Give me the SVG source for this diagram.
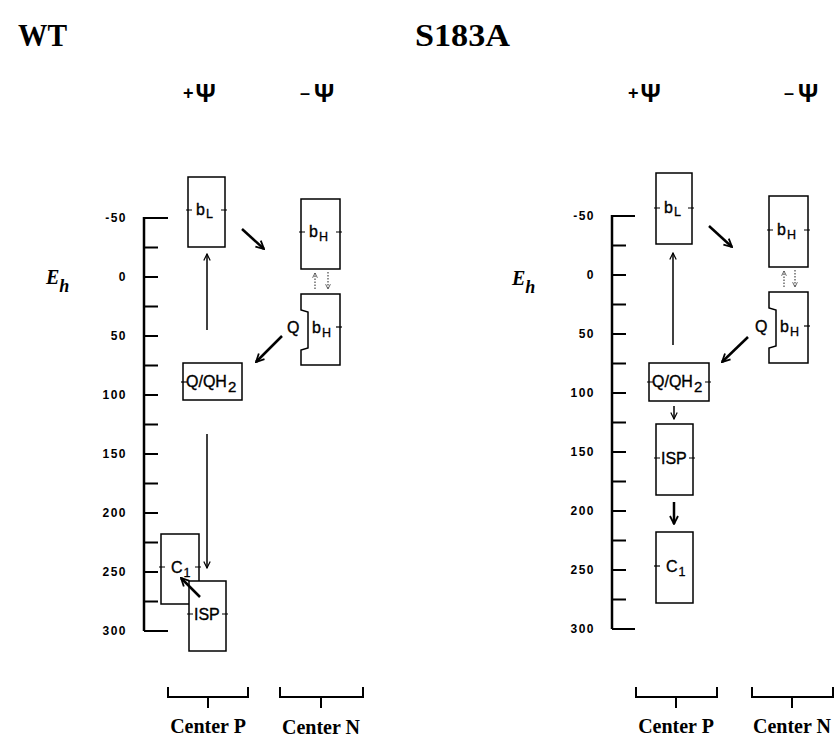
<svg xmlns="http://www.w3.org/2000/svg" width="834" height="740" viewBox="0 0 834 740">
<defs>
<style>
.title{font-family:"Liberation Serif",serif;font-weight:bold;font-size:32px;fill:#000}
.psi{font-family:"Liberation Sans",sans-serif;font-weight:bold;font-size:25px;fill:#000}
.pm{font-family:"Liberation Sans",sans-serif;font-weight:bold;font-size:18px;fill:#000}
.eh{font-family:"Liberation Serif",serif;font-weight:bold;font-style:italic;font-size:20px;fill:#000}
.ehs{font-family:"Liberation Serif",serif;font-weight:bold;font-style:italic;font-size:18px;fill:#000}
.ax{font-family:"Liberation Sans",sans-serif;font-weight:bold;font-size:12px;letter-spacing:1.5px;fill:#000;text-anchor:end}
.lbl{font-family:"Liberation Sans",sans-serif;font-size:16px;fill:#000;stroke:#000;stroke-width:0.35}
.sub{font-family:"Liberation Sans",sans-serif;font-size:12.5px;fill:#000;stroke:#000;stroke-width:0.3}
.sub2{font-family:"Liberation Sans",sans-serif;font-size:15px;fill:#000;stroke:#000;stroke-width:0.35}
.ctr{font-family:"Liberation Serif",serif;font-weight:bold;font-size:20px;fill:#000;text-anchor:middle}
.box{fill:#fff;stroke:#000;stroke-width:1.5}
.axis{fill:none;stroke:#000;stroke-width:2.5}
.tick{fill:none;stroke:#000;stroke-width:2}
.dash{fill:none;stroke:#000;stroke-width:1.2}
.thin{fill:none;stroke:#000;stroke-width:1.5}
.thick{fill:none;stroke:#000;stroke-width:2.5}
.dot{fill:none;stroke:#555;stroke-width:1.3;stroke-dasharray:1.5 1.5}
.brk{fill:none;stroke:#000;stroke-width:2}
</style>
<marker id="ah" viewBox="0 0 10 10" refX="9" refY="5" markerWidth="8" markerHeight="8" markerUnits="userSpaceOnUse" orient="auto">
<path d="M1,1 L9,5 L1,9" fill="none" stroke="#000" stroke-width="1.5"/>
</marker>
<marker id="ahk" viewBox="0 0 10 10" refX="9" refY="5" markerWidth="4" markerHeight="4" orient="auto">
<path d="M1,1 L9,5 L1,9" fill="none" stroke="#000" stroke-width="1.8"/>
</marker>
<marker id="ahd" viewBox="0 0 10 10" refX="9" refY="5" markerWidth="6" markerHeight="6" markerUnits="userSpaceOnUse" orient="auto">
<path d="M1,1 L9,5 L1,9" fill="none" stroke="#555" stroke-width="1.5"/>
</marker>
</defs>
<rect width="834" height="740" fill="#fff"/>

<!-- Titles -->
<text class="title" x="18" y="46" textLength="49" lengthAdjust="spacingAndGlyphs">WT</text>
<text class="title" x="415" y="46" textLength="95" lengthAdjust="spacingAndGlyphs">S183A</text>
<text x="183" y="102"><tspan class="pm" dy="-3">+</tspan><tspan class="psi" dx="2" dy="3">Ψ</tspan></text>
<text x="300" y="102"><tspan class="pm" dy="-3">–</tspan><tspan class="psi" dx="4" dy="3">Ψ</tspan></text>
<text x="628" y="102"><tspan class="pm" dy="-3">+</tspan><tspan class="psi" dx="2" dy="3">Ψ</tspan></text>
<text x="784" y="102"><tspan class="pm" dy="-3">–</tspan><tspan class="psi" dx="4" dy="3">Ψ</tspan></text>

<!-- WT axis -->
<g id="axis-wt">
<text x="46" y="284"><tspan class="eh">E</tspan><tspan class="ehs" dx="0" dy="8">h</tspan></text>
<path class="axis" d="M144,217 V631"/>
<path class="tick" d="M144,218 H168 M144,631 H168 M144,247.5 H158 M144,277 H158 M144,306.5 H158 M144,336 H158 M144,365.5 H158 M144,395 H158 M144,424.5 H158 M144,454 H158 M144,483.5 H158 M144,513 H158 M144,542.5 H158 M144,572 H158 M144,601.5 H158"/>
<text class="ax" x="127" y="222">-50</text>
<text class="ax" x="127" y="281">0</text>
<text class="ax" x="127" y="340">50</text>
<text class="ax" x="127" y="399">100</text>
<text class="ax" x="127" y="458">150</text>
<text class="ax" x="127" y="517">200</text>
<text class="ax" x="127" y="576">250</text>
<text class="ax" x="127" y="635">300</text>
</g>

<!-- WT nodes -->
<g id="wt-bL">
<rect class="box" x="188" y="177" width="37" height="70"/>
<path class="dash" d="M186,210 H192 M221,210 H227"/>
<text x="196" y="215"><tspan class="lbl">b</tspan><tspan class="sub" dx="1" dy="3">L</tspan></text>
</g>
<g id="wt-bH">
<rect class="box" x="301" y="199" width="39" height="70"/>
<path class="dash" d="M299,232 H305 M336,232 H342"/>
<text x="309" y="237"><tspan class="lbl">b</tspan><tspan class="sub" dx="1" dy="4">H</tspan></text>
</g>
<g id="wt-QbH">
<path class="box" d="M301,294 H340 V365 H301 V350 L308,348 V312 L301,310 Z"/>
<path class="dash" d="M336,327 H342"/>
<text class="lbl" x="287" y="333">Q</text>
<text x="312" y="333"><tspan class="lbl">b</tspan><tspan class="sub" dx="1" dy="4">H</tspan></text>
</g>
<g id="wt-QQH2">
<rect class="box" x="183" y="363" width="59" height="37"/>
<path class="dash" d="M181,382 H187"/>
<text x="186" y="387"><tspan class="lbl">Q/QH</tspan><tspan class="sub2" dx="1" dy="5">2</tspan></text>
</g>
<g id="wt-C1">
<rect class="box" x="161" y="534" width="38" height="70"/>
<path class="dash" d="M159,567 H165 M195,567 H201"/>
<text x="171" y="573"><tspan class="lbl">C</tspan><tspan class="sub" dx="1" dy="4">1</tspan></text>
</g>
<g id="wt-ISP">
<rect class="box" x="189" y="581" width="37" height="70"/>
<path class="dash" d="M187,614 H193 M222,614 H228"/>
<text class="lbl" x="194" y="620">ISP</text>
</g>

<!-- WT connectors -->
<g id="wt-connectors">
<path class="thick" d="M242,229 L264,249" marker-end="url(#ahk)"/>
<path class="thick" d="M282,336 L256,362" marker-end="url(#ahk)"/>
<path class="thin" d="M207,330 V254" marker-end="url(#ah)"/>
<path class="thin" d="M207,434 V568" marker-end="url(#ah)"/>
<path class="thick" d="M200,597 L181,578" marker-end="url(#ahk)"/>
<path class="dot" d="M315,289 V273" marker-end="url(#ahd)"/>
<path class="dot" d="M328,272 V289" marker-end="url(#ahd)"/>
</g>

<!-- S183A axis -->
<g id="axis-s183a">
<text x="512" y="285"><tspan class="eh">E</tspan><tspan class="ehs" dx="0" dy="8">h</tspan></text>
<path class="axis" d="M612,215 V629"/>
<path class="tick" d="M612,216 H635 M612,629 H635 M612,245.5 H626 M612,275 H626 M612,304.5 H626 M612,334 H626 M612,363.5 H626 M612,393 H626 M612,422.5 H626 M612,452 H626 M612,481.5 H626 M612,511 H626 M612,540.5 H626 M612,570 H626 M612,599.5 H626"/>
<text class="ax" x="595" y="220">-50</text>
<text class="ax" x="595" y="279">0</text>
<text class="ax" x="595" y="338">50</text>
<text class="ax" x="595" y="397">100</text>
<text class="ax" x="595" y="456">150</text>
<text class="ax" x="595" y="515">200</text>
<text class="ax" x="595" y="574">250</text>
<text class="ax" x="595" y="633">300</text>
</g>

<!-- S183A nodes -->
<g id="s-bL">
<rect class="box" x="656" y="173" width="36" height="71"/>
<path class="dash" d="M654,208 H660 M688,208 H694"/>
<text x="664" y="213"><tspan class="lbl">b</tspan><tspan class="sub" dx="1" dy="3">L</tspan></text>
</g>
<g id="s-bH">
<rect class="box" x="769" y="196" width="39" height="71"/>
<path class="dash" d="M767,230 H773 M804,230 H810"/>
<text x="777" y="235"><tspan class="lbl">b</tspan><tspan class="sub" dx="1" dy="4">H</tspan></text>
</g>
<g id="s-QbH">
<path class="box" d="M769,292 H808 V363 H769 V348 L776,346 V310 L769,308 Z"/>
<path class="dash" d="M804,326 H810"/>
<text class="lbl" x="755" y="332">Q</text>
<text x="780" y="332"><tspan class="lbl">b</tspan><tspan class="sub" dx="1" dy="4">H</tspan></text>
</g>
<g id="s-QQH2">
<rect class="box" x="649" y="363" width="60" height="38"/>
<path class="dash" d="M647,382 H653 M705,382 H711"/>
<text x="652" y="387"><tspan class="lbl">Q/QH</tspan><tspan class="sub2" dx="1" dy="5">2</tspan></text>
</g>
<g id="s-ISP">
<rect class="box" x="656" y="424" width="37" height="71"/>
<path class="dash" d="M654,458 H660 M689,458 H695"/>
<text class="lbl" x="661" y="464">ISP</text>
</g>
<g id="s-C1">
<rect class="box" x="656" y="532" width="37" height="71"/>
<path class="dash" d="M654,566 H660"/>
<text x="666" y="572"><tspan class="lbl">C</tspan><tspan class="sub" dx="1" dy="4">1</tspan></text>
</g>

<!-- S183A connectors -->
<g id="s-connectors">
<path class="thick" d="M709,226 L732,247" marker-end="url(#ahk)"/>
<path class="thick" d="M748,337 L722,362" marker-end="url(#ahk)"/>
<path class="thin" d="M673,345 V253" marker-end="url(#ah)"/>
<path class="thin" d="M674,406 V419" marker-end="url(#ah)"/>
<path class="thick" d="M674,502 V524" marker-end="url(#ahk)"/>
<path class="dot" d="M784,287 V271" marker-end="url(#ahd)"/>
<path class="dot" d="M795,270 V287" marker-end="url(#ahd)"/>
</g>

<!-- Center brackets -->
<g id="brackets">
<path class="brk" d="M168,687 V697 H248 V687 M208,697 V708"/>
<path class="brk" d="M280,687 V697 H363 V687 M321,697 V708"/>
<path class="brk" d="M636,687 V697 H717 V687 M676,697 V708"/>
<path class="brk" d="M752,687 V697 H833 V687 M792,697 V708"/>
<text class="ctr" x="208" y="733">Center P</text>
<text class="ctr" x="321" y="734">Center N</text>
<text class="ctr" x="676" y="733">Center P</text>
<text class="ctr" x="792" y="733">Center N</text>
</g>
</svg>
